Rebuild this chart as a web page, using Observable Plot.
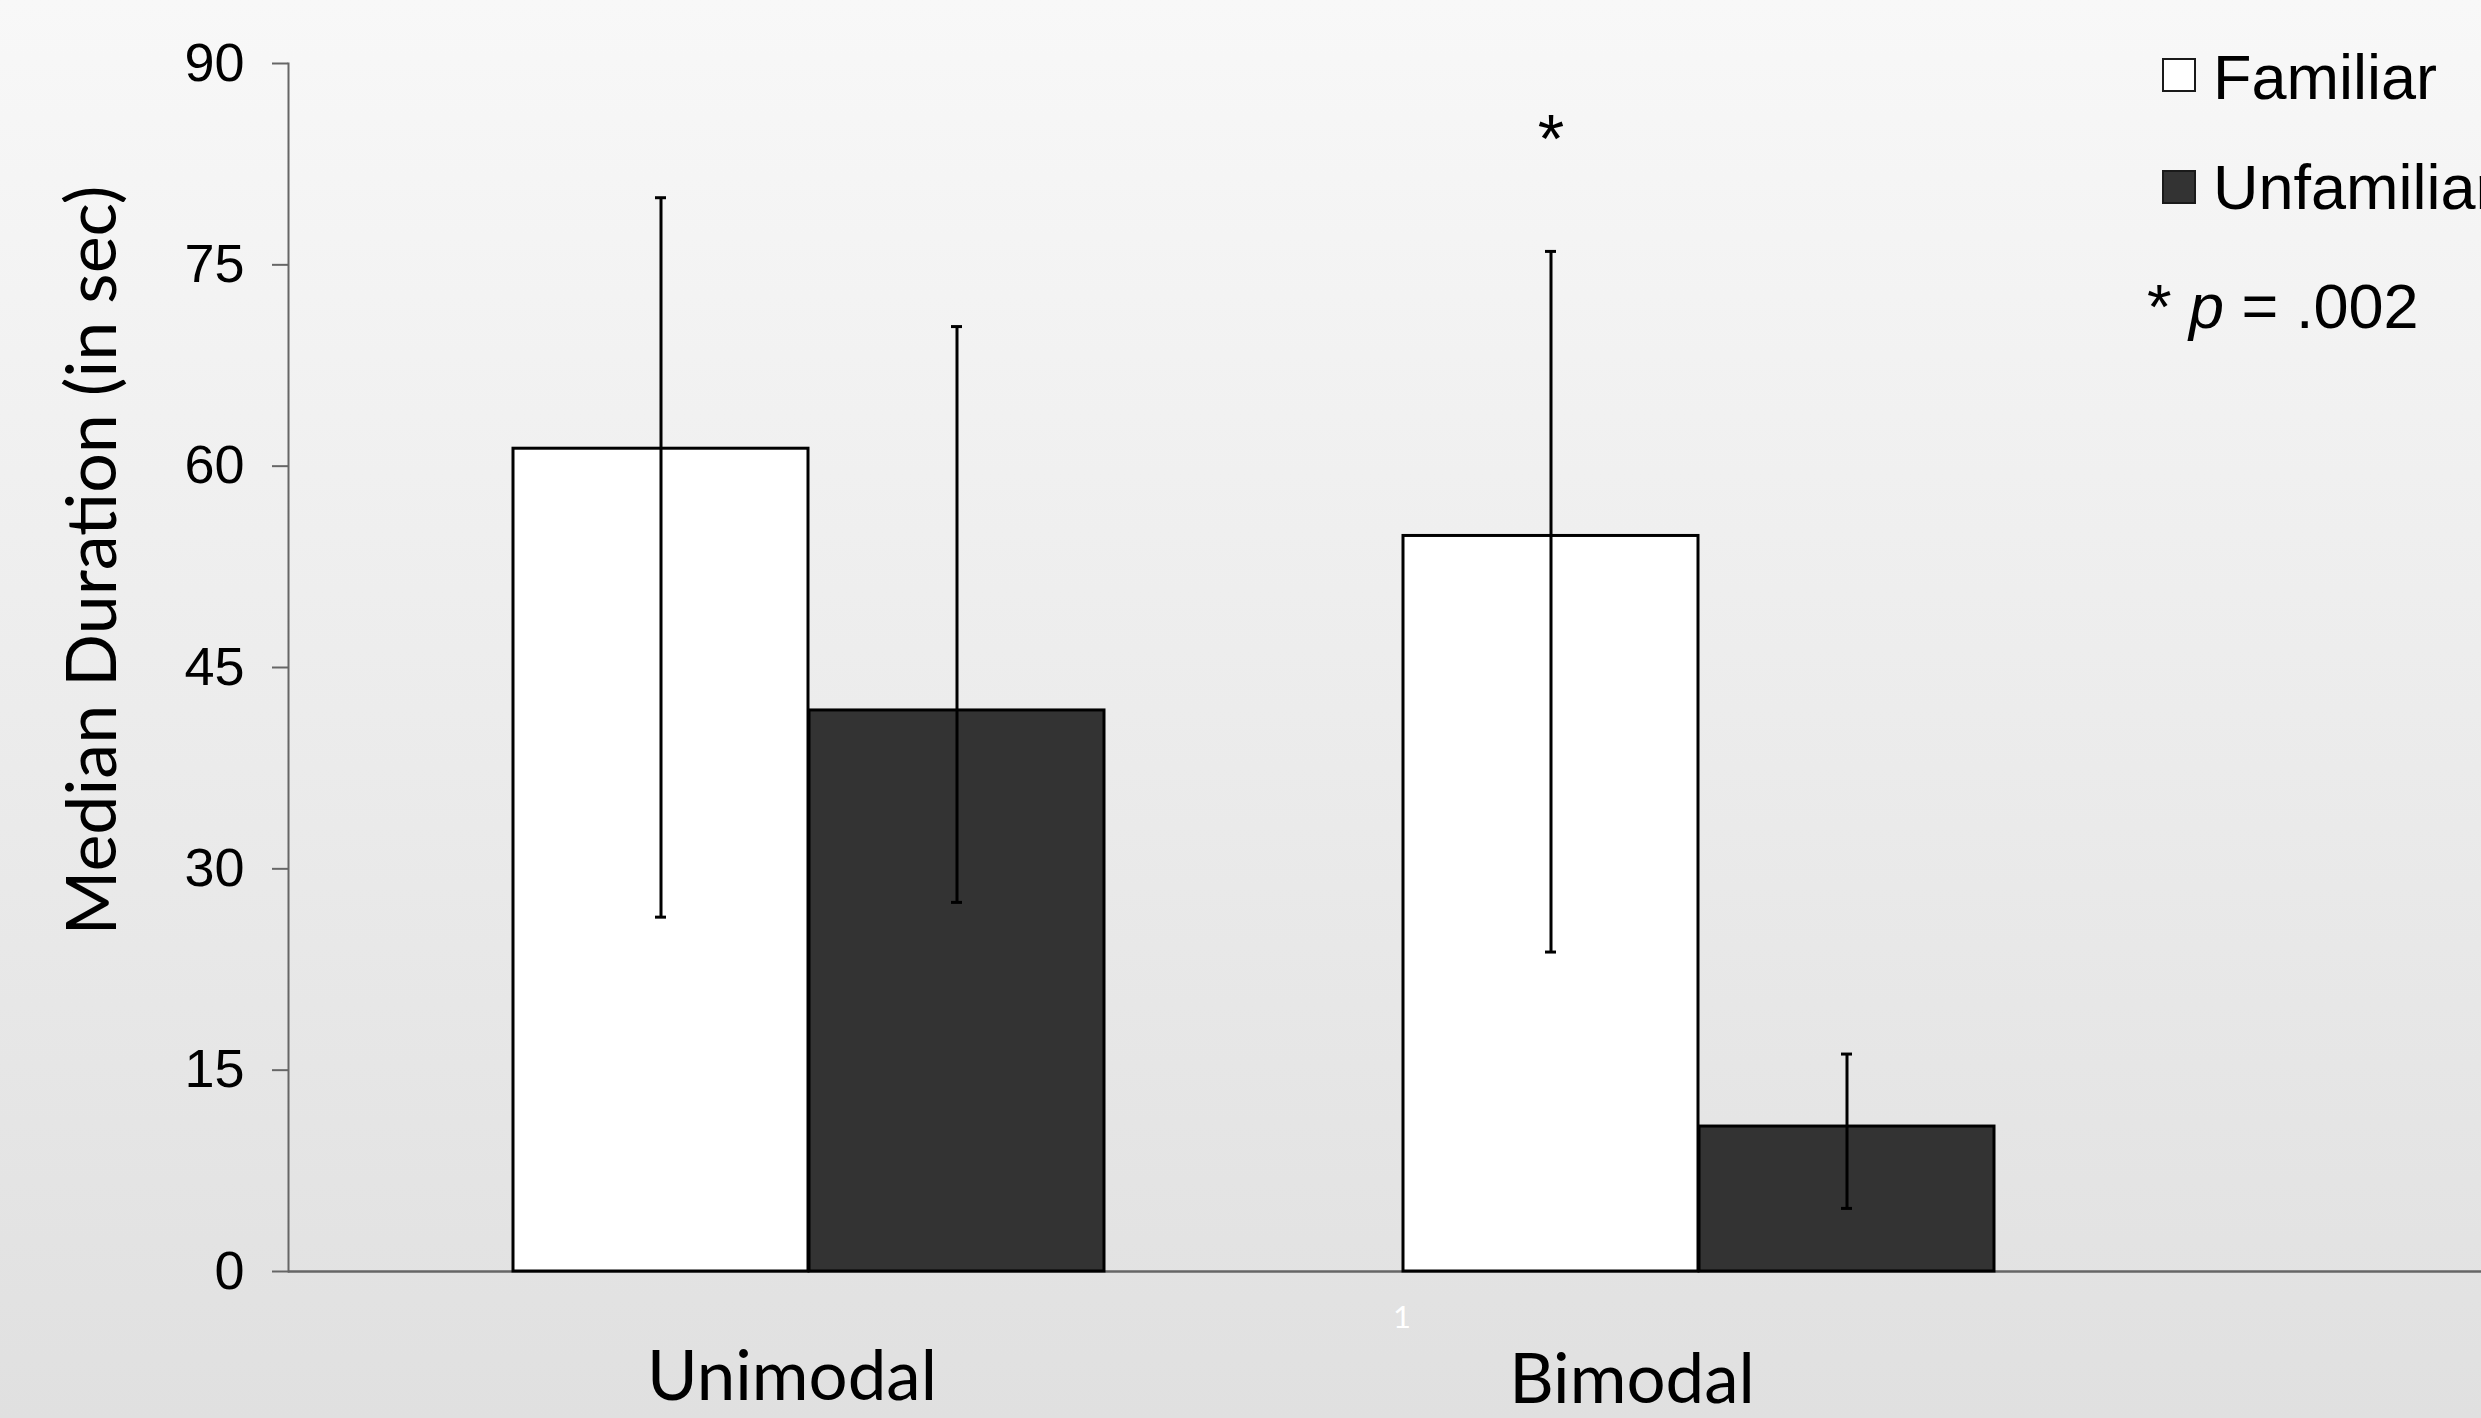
<!DOCTYPE html>
<html>
<head>
<meta charset="utf-8">
<script src="https://cdn.jsdelivr.net/npm/d3@7"></script>
<script src="https://cdn.jsdelivr.net/npm/@observablehq/plot@0.6"></script>
<style>
html, body { margin: 0; padding: 0; width: 2481px; height: 1418px; overflow: hidden; }
body { position: relative; background: linear-gradient(#f8f8f8, #e0e0e0); color: #000;
       font-family: "Liberation Sans", Arial, sans-serif; }
#chart { position: absolute; left: 0; top: 0; }
#chart svg { display: block; background: transparent; }
.sw { position: absolute; width: 34px; height: 34px; box-sizing: border-box; border: 2.5px solid #1a1a1a; }
.lt { position: absolute; font-size: 63px; line-height: 63px; white-space: nowrap; }
</style>
</head>
<body>
<div id="chart"></div>
<div id="legend"></div>
<script>
// ---- data ----
const categories = ["Unimodal", "Bimodal"];
const series = ["Familiar", "Unfamiliar"];
const seriesColors = ["#ffffff", "#333333"];
const familiarMedian = [61.3, 54.8];
const familiarLow = [26.4, 23.8];
const familiarHigh = [80.0, 76.0];
const unfamiliarMedian = [41.8, 10.8];
const unfamiliarLow = [27.5, 4.7];
const unfamiliarHigh = [70.4, 16.2];
const yTicks = [0, 15, 30, 45, 60, 75, 90];
const yLabel = "Median Duration (in sec)";
const significance = [{category: "Bimodal", y: 84.3, label: "*"}];
const pNote = "= .002";

const familiarRows = categories.map((c, i) => ({category: c, series: series[0], value: familiarMedian[i], low: familiarLow[i], high: familiarHigh[i]}));
const unfamiliarRows = categories.map((c, i) => ({category: c, series: series[1], value: unfamiliarMedian[i], low: unfamiliarLow[i], high: unfamiliarHigh[i]}));

// ---- styling constants ----
const axisGray = "#666666";
const catFont = "Lato, 'Open Sans', sans-serif";
const barW = 296;          // each bar is half of a category band
const half = barW / 2;
const capInset = half - 6; // error-bar cap ~12px wide

function seriesMarks(rows, side) {
  // side = -1 (left half of band) or +1 (right half)
  const barInset = side < 0 ? {insetRight: barW} : {insetLeft: barW};
  const capIn = side < 0 ? {insetLeft: capInset, insetRight: barW + capInset} : {insetLeft: barW + capInset, insetRight: capInset};
  return [
    Plot.barY(rows, {x: "category", y: "value", fill: "series", stroke: "#000", strokeWidth: 3, ...barInset}),
    Plot.ruleX(rows, {x: "category", y1: "low", y2: "high", stroke: "#000", strokeWidth: 3, dx: side * half}),
    Plot.tickY(rows, {x: "category", y: "high", stroke: "#000", strokeWidth: 3, ...capIn}),
    Plot.tickY(rows, {x: "category", y: "low", stroke: "#000", strokeWidth: 3, ...capIn})
  ];
}

const chart = Plot.plot({
  width: 2481,
  height: 1418,
  marginLeft: 288,
  marginRight: 0,
  marginTop: 63,
  marginBottom: 147,
  style: {background: "transparent", color: "#000", fontFamily: "'Liberation Sans', Arial, sans-serif"},
  x: {domain: categories, paddingInner: 0.3355, paddingOuter: 0.3985, align: 0.316},
  y: {domain: [0, 90]},
  color: {domain: series, range: seriesColors},
  marks: [
    Plot.ruleY([0], {stroke: axisGray, strokeWidth: 2.5}),
    Plot.frame({anchor: "left", stroke: axisGray, strokeWidth: 2}),
    Plot.axisY(yTicks, {tickSize: 16, tickPadding: 28, fontSize: 54, stroke: axisGray, strokeWidth: 2, label: null}),
    ...seriesMarks(familiarRows, -1),
    ...seriesMarks(unfamiliarRows, 1),
    Plot.text(significance, {x: "category", y: "y", text: "label", fontSize: 68, fill: "#000", dx: -half}),
    Plot.axisX([categories[0]], {anchor: "bottom", tickSize: 0, tickPadding: 79, fontSize: 69, fontFamily: catFont, dx: -17, label: null}),
    Plot.axisX([categories[1]], {anchor: "bottom", tickSize: 0, tickPadding: 82, fontSize: 69, fontFamily: catFont, dx: -67, label: null}),
    Plot.text([yLabel], {frameAnchor: "left", textAnchor: "middle", lineAnchor: "middle", rotate: -90, dx: -195, dy: -107, fontSize: 70, fontFamily: catFont, fill: "#000"}),
    Plot.text([categories[1]], {x: d => d, frameAnchor: "bottom", text: () => "1", dx: -2 * half - 1, dy: 56, fontSize: 31, fontFamily: catFont, fill: "#ffffff"})
  ]
});
document.getElementById("chart").appendChild(chart);

// ---- legend ----
const legend = document.getElementById("legend");
const legendTops = [58, 170];
const textTops = [46, 156];
series.forEach((s, i) => {
  const sw = document.createElement("div");
  sw.className = "sw";
  sw.style.left = "2162px";
  sw.style.top = legendTops[i] + "px";
  sw.style.background = seriesColors[i];
  legend.appendChild(sw);
  const t = document.createElement("div");
  t.className = "lt";
  t.style.left = "2213px";
  t.style.top = textTops[i] + "px";
  t.textContent = s;
  legend.appendChild(t);
});
const note = document.createElement("div");
note.className = "lt";
note.style.left = "2147px";
note.style.top = "275px";
note.innerHTML = "* <i>p</i> " + pNote;
legend.appendChild(note);
</script>
</body>
</html>
